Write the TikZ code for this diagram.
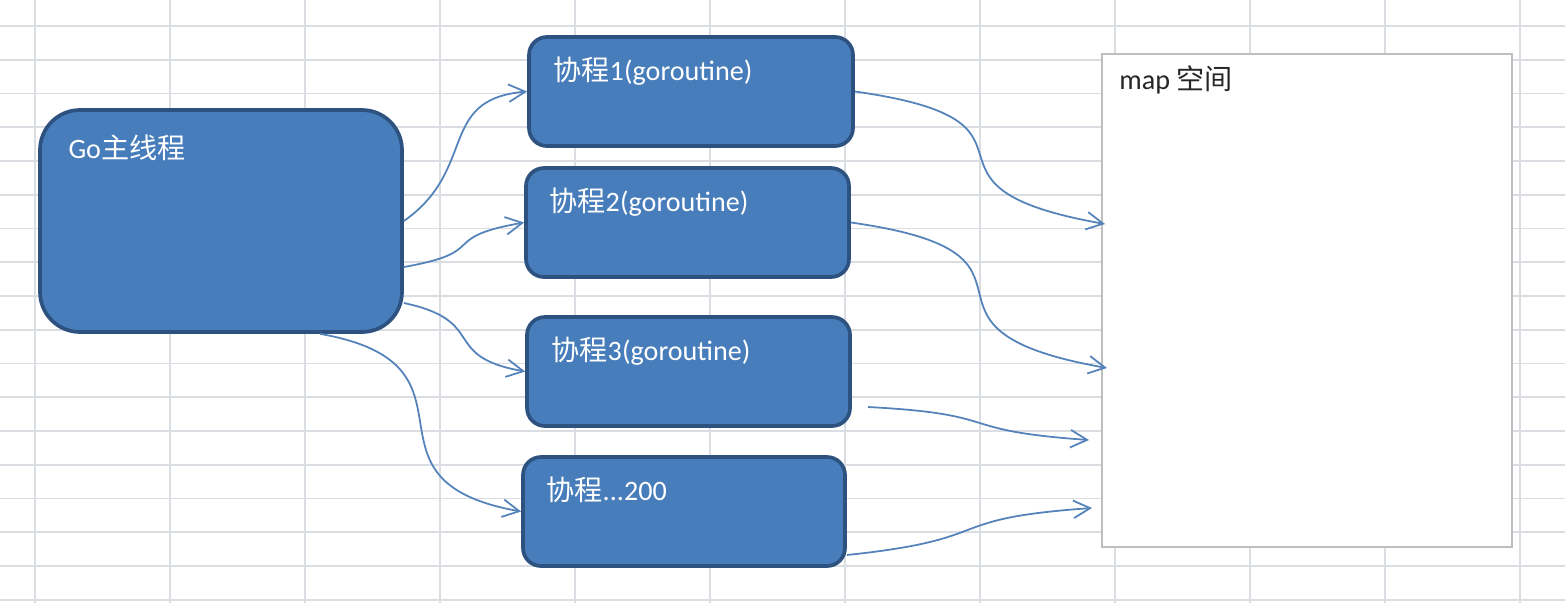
\documentclass[tikz,border=0pt]{standalone}
\usepackage{fontspec}
\setmainfont{Carlito}
\newfontfamily\cjk{Noto Sans CJK SC}
\usepackage{tikz}
\usetikzlibrary{positioning}
\usetikzlibrary{arrows.meta}
\definecolor{boxblue}{RGB}{72,125,187}
\definecolor{boxline}{RGB}{46,82,128}
\definecolor{arrowblue}{RGB}{84,130,186}
\definecolor{gridgray}{RGB}{218,221,225}
\definecolor{mapline}{RGB}{190,190,190}

\begin{document}
\begin{tikzpicture}[
  every node/.style={font=\fontsize{16}{19}\selectfont},
  gridline/.style={draw=gridgray, line width=0.9pt},
  gbox/.style={draw=boxline, fill=boxblue, line width=2.1pt, rounded corners=0.36cm, inner sep=0pt},
  btext/.style={text=white, anchor=base west, inner sep=0pt},
  conn/.style={draw=arrowblue, line width=1pt, -{Straight Barb[length=9.5pt,width=10pt]}}]
  \path[use as bounding box, fill=white] (0,0) rectangle (31.30,-12.06);

  % spreadsheet grid behind everything
  \foreach \i in {0,...,11} \draw[gridline] (0.7+2.7*\i,0) -- ++(0,-12.06);
  \foreach \j in {0,...,17} \draw[gridline] (0,-0.52-0.675*\j) -- ++(31.30,0);

  \node[gbox, minimum width=7.24cm, minimum height=4.44cm, rounded corners=0.8cm] (go) at (4.42,-4.42) {};
  \node[btext] (gotxt) at ([xshift=0.6cm,yshift=-1.0cm]go.north west) {Go{\cjk 主线程}};

  \node[gbox, minimum width=6.48cm, minimum height=2.18cm] (p1) at (13.82,-1.83)  {};
  \node[gbox, minimum width=6.46cm, minimum height=2.18cm] (p2) at (13.75,-4.45)  {};
  \node[gbox, minimum width=6.46cm, minimum height=2.18cm] (p3) at (13.77,-7.43)  {};
  \node[gbox, minimum width=6.44cm, minimum height=2.18cm] (p4) at (13.68,-10.23) {};
  \node[btext] (p1txt) at ([xshift=0.52cm,yshift=-0.9cm]p1.north west) {{\cjk 协程}1(goroutine)};
  \node[btext] (p2txt) at ([xshift=0.50cm,yshift=-0.9cm]p2.north west) {{\cjk 协程}2(goroutine)};
  \node[btext] (p3txt) at ([xshift=0.52cm,yshift=-0.9cm]p3.north west) {{\cjk 协程}3(goroutine)};
  \node[btext] (p4txt) at ([xshift=0.50cm,yshift=-0.9cm]p4.north west) {{\cjk 协程}...200};

  \node[draw=mapline, fill=white, line width=1pt, minimum width=8.2cm, minimum height=9.86cm, inner sep=0pt] (map) at (26.14,-6.01) {};
  \node[anchor=base west, inner sep=0pt, text=black!85] (maptxt) at ([xshift=0.36cm,yshift=-0.72cm]map.north west) {map {\cjk 空间}};

  % loose ends of the connectors
  \coordinate (m1) at (22.10,-4.48);
  \coordinate (m2) at (22.14,-7.36);
  \coordinate (s3) at (17.36,-8.14);
  \coordinate (m3) at (21.78,-8.80);
  \coordinate (m4) at (21.84,-10.16);

  \draw[conn] (go.east) to[out=35,in=185,looseness=1.3] (p1.west);
  \draw[conn] ([yshift=-0.92cm]go.east) to[out=10,in=190,looseness=1.8] (p2.west);
  \draw[conn] ([yshift=-1.64cm]go.east) to[out=-12,in=170,looseness=1.6] (p3.west);
  \draw[conn] ([xshift=1.98cm]go.south) to[out=-10,in=170,looseness=1.7] (p4.west);

  \draw[conn] (p1.east) to[out=-8,in=170,looseness=2] (m1);
  \draw[conn] (p2.east) to[out=-8,in=170,looseness=2] (m2);
  \draw[conn] (s3) to[out=-3,in=176,looseness=1.6] (m3);
  \draw[conn] ([yshift=-0.87cm]p4.east) to[out=6,in=184,looseness=1.6] (m4);
\end{tikzpicture}
\end{document}
